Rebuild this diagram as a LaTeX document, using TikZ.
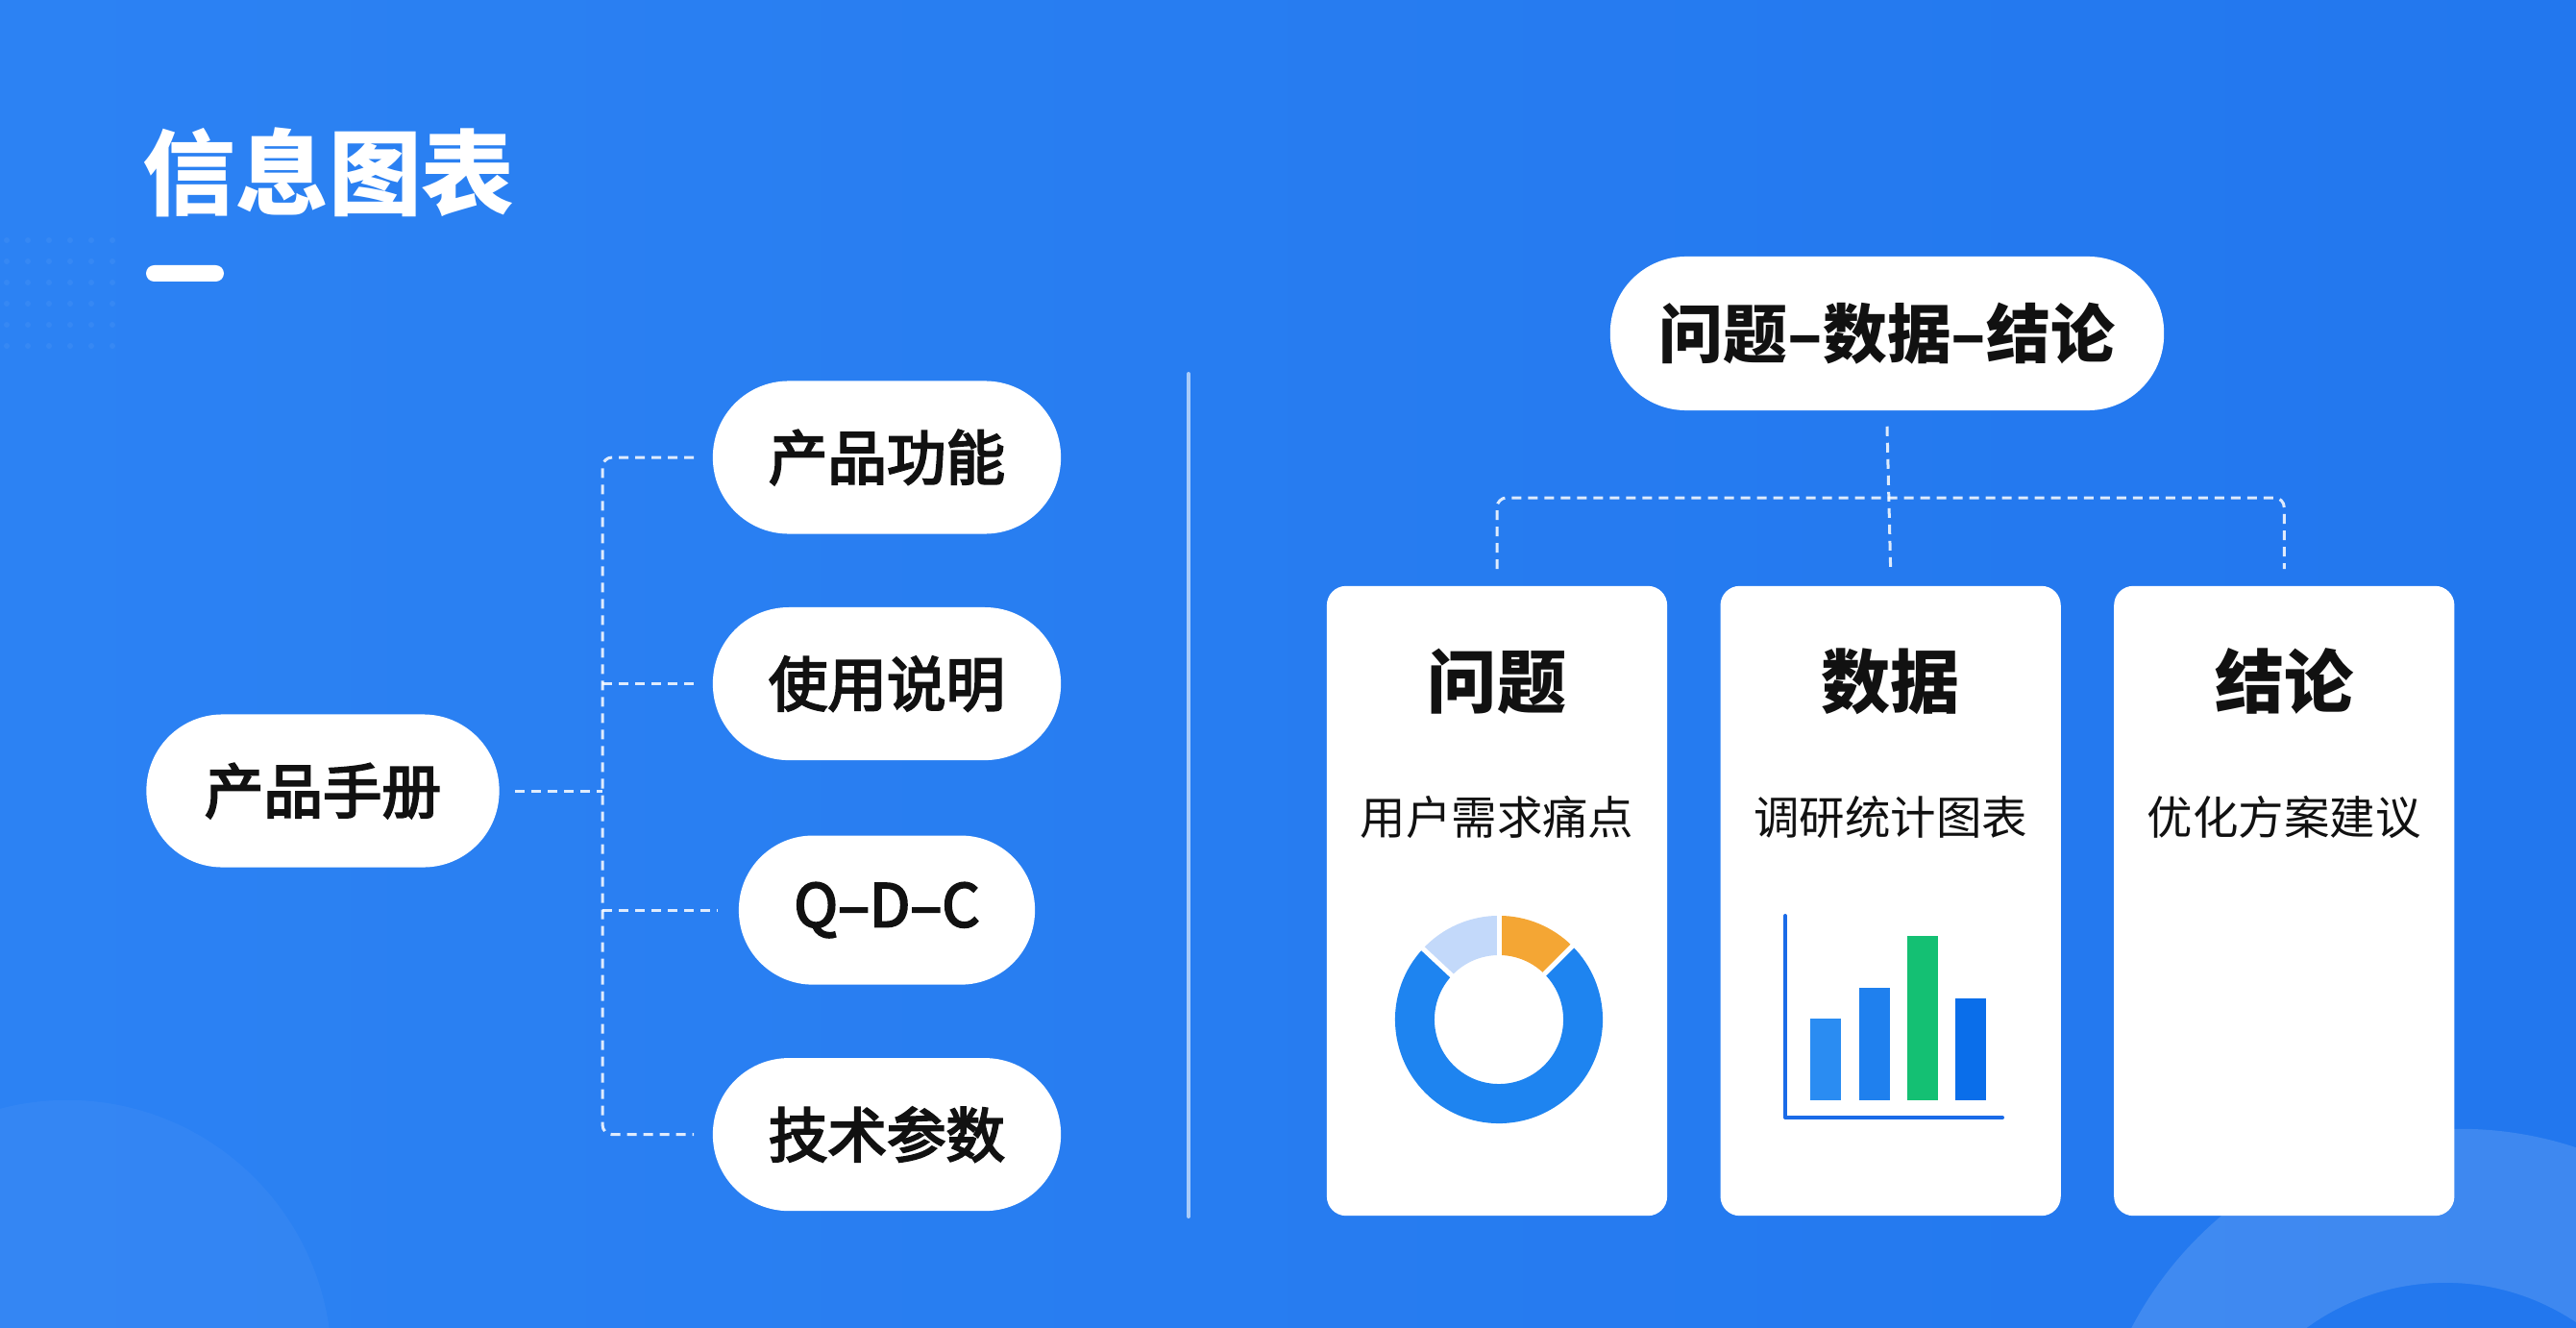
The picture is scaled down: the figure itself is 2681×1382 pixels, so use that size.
\documentclass[tikz,border=0pt]{standalone}
\usepackage{fontspec}
\setmainfont{Noto Sans CJK SC}
\newfontfamily\medfont{Noto Sans CJK SC}[FakeBold=3.5]
\usepackage{tikz}
\usetikzlibrary{positioning,calc}
\definecolor{canvas}{HTML}{2C82F3}
\definecolor{canvasdeep}{HTML}{2277EE}
\definecolor{ink}{HTML}{111111}
\definecolor{donutmain}{HTML}{1E84F0}
\definecolor{donutsoft}{HTML}{C3D9FA}
\definecolor{donutwarm}{HTML}{F4A634}
\definecolor{barone}{HTML}{2A8CF2}
\definecolor{bartwo}{HTML}{1F80EE}
\definecolor{barhigh}{HTML}{14C073}
\definecolor{barfour}{HTML}{0A6EEA}
\definecolor{axisblue}{HTML}{1A6BE8}

\begin{document}
\begin{tikzpicture}[x=0.01cm,y=-0.01cm,
  pill/.style={fill=white,rounded corners=0.79cm,minimum width=3.62cm,minimum height=1.59cm,
               inner sep=0pt,text=ink,font=\medfont\fontsize{17.5pt}{20pt}\selectfont},
  card/.style={fill=white,rounded corners=0.2cm,minimum width=3.54cm,minimum height=6.55cm,inner sep=0pt},
  heading/.style={text=ink,inner sep=0pt,font=\fontsize{20.5pt}{24pt}\selectfont\bfseries},
  caption/.style={text=ink,inner sep=0pt,font=\fontsize{13.5pt}{16pt}\selectfont},
  link/.style={draw=white,draw opacity=0.85,line width=0.03cm,dash pattern=on 0.1cm off 0.07cm,rounded corners=0.1cm}
]
\useasboundingbox (0,0) rectangle (2681,1382);
\shade[left color=canvas,right color=canvasdeep] (0,0) rectangle (2681,1382);

% backdrop
\foreach \i in {0,...,5}
  \foreach \j in {0,...,5}
    \fill[white,opacity=0.05] (7+22*\i,250+22*\j) circle[radius=0.03cm];
\fill[white,opacity=0.04] (70,1420) circle[radius=2.75cm];
\fill[white,opacity=0.13,even odd rule] (2560,1560) circle[radius=3.85cm] (2545,1580) circle[radius=2.45cm];

\node[anchor=west,inner sep=0pt,text=white,font=\fontsize{27.5pt}{32pt}\selectfont\bfseries] (headline) at (148,179) {信息图表};
\fill[white,rounded corners=0.085cm] (152,276) rectangle (233,293);

% left tree
\node[pill,minimum width=3.67cm] (hub) at (336,823) {产品手册};
\node[pill] (feat) at (923,476) {产品功能};
\node[pill,below=0.75cm of feat] (usage) {使用说明};
\node[pill,minimum width=3.08cm,minimum height=1.55cm,rounded corners=0.77cm,below=0.77cm of usage] (qdc) {Q–D–C};
\node[pill,below=0.75cm of qdc] (spec) {技术参数};

\coordinate (trunk) at (627,823);
\draw[link] ([xshift=-0.19cm]feat.west) -| (trunk) |- ([xshift=-0.19cm]spec.west);
\draw[link] ([xshift=0.16cm]hub.east) -- (trunk);
\draw[link] (trunk |- usage) -- ([xshift=-0.19cm]usage.west);
\draw[link] (trunk |- qdc) -- ([xshift=-0.21cm]qdc.west);

\draw[white,opacity=0.6,line width=0.04cm,line cap=round] (1237,389) -- (1237,1266);

% right tree
\node[pill,minimum width=5.76cm,minimum height=1.6cm,font=\fontsize{19pt}{22pt}\selectfont\bfseries] (flow) at (1964,347) {问题–数据–结论};
\node[card] (prob) at (1558,937.5) {};
\node[card,right=0.54cm of prob] (data) {};
\node[card,right=0.54cm of data] (concl) {};

\coordinate (bus) at (1965,518);
\draw[link] ([yshift=0.17cm]prob.north) |- (bus) -| ([yshift=0.17cm]concl.north);
\draw[link] ([yshift=-0.16cm]flow.south) -- ([yshift=0.17cm]data.north);

\foreach \c/\t/\s in {prob/问题/用户需求痛点,data/数据/调研统计图表,concl/结论/优化方案建议}{
  \node[heading] (\c T) at ([yshift=-1.0cm]\c.north) {\t};
  \node[caption] (\c S) at ([yshift=-2.41cm]\c.north) {\s};
}

% donut
\begin{scope}[shift={(1560,1061)},x=1cm,y=1cm]
  \fill[donutwarm] (45:1.08) arc[start angle=45,end angle=90,radius=1.08] -- (90:0.67) arc[start angle=90,end angle=45,radius=0.67] -- cycle;
  \fill[donutsoft] (90:1.08) arc[start angle=90,end angle=137,radius=1.08] -- (137:0.67) arc[start angle=137,end angle=90,radius=0.67] -- cycle;
  \fill[donutmain] (137:1.08) arc[start angle=137,end angle=405,radius=1.08] -- (405:0.67) arc[start angle=405,end angle=137,radius=0.67] -- cycle;
  \foreach \a in {45,90,137}
    \draw[white,line width=0.05cm] (\a:0.6) -- (\a:1.15);
\end{scope}

% bars
\foreach \bx/\by/\bc in {1884/1060/barone,1935/1028/bartwo,1985/974/barhigh,2035/1039/barfour}
  \fill[\bc] (\bx,1145) rectangle (\bx+32,\by);
\draw[axisblue,line width=0.04cm,line cap=round,line join=round] (1858,953) -- (1858,1163) -- (2084,1163);
\end{tikzpicture}
\end{document}
